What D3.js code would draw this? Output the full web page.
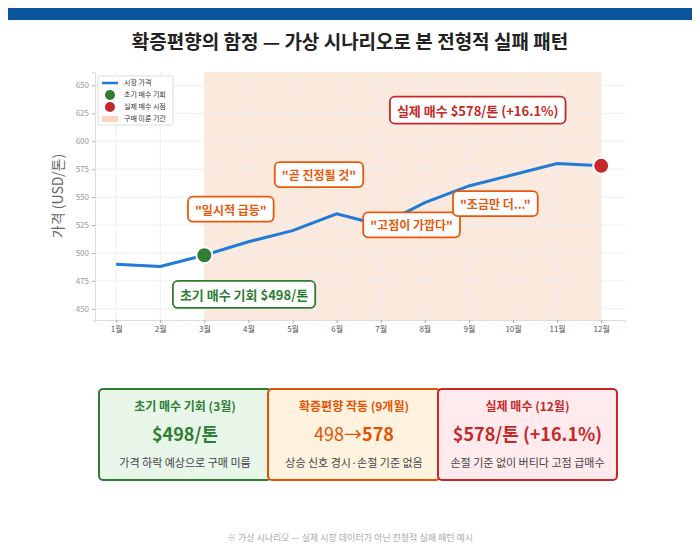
<!DOCTYPE html>
<html><head><meta charset="utf-8">
<script src="https://cdn.jsdelivr.net/npm/d3@7"></script>
<style>body{margin:0;background:#fff;font-family:"Noto Sans CJK KR","Noto Sans",sans-serif}</style>
</head><body>
<script>
// 데이터
const months = ["1월","2월","3월","4월","5월","6월","7월","8월","9월","10월","11월","12월"];
const prices = [490, 488, 498, 510, 520, 535, 525, 545, 560, 570, 580, 578];
const yTicks = [450, 475, 500, 525, 550, 575, 600, 625, 650];
const notes = [
  {t: "\"일시적 급등\"", m: 3.6, v: 538},
  {t: "\"곧 진정될 것\"", m: 5.6, v: 569},
  {t: "\"고점이 가깝다\"", m: 7.7, v: 524},
  {t: "\"조금만 더...\"", m: 9.6, v: 543}
];
const cards = [
  {head: "초기 매수 기회 (3월)", big: "$498/톤", sub: "가격 하락 예상으로 구매 미룸", c: "#2e7d32", bg: "#e8f5e9"},
  {head: "확증편향 작동 (9개월)", big: "498→578", sub: "상승 신호 경시·손절 기준 없음", c: "#e65100", bg: "#fff3e0"},
  {head: "실제 매수 (12월)", big: "$578/톤 (+16.1%)", sub: "손절 기준 없이 버티다 고점 급매수", c: "#c62828", bg: "#ffebee"}
];

const W = 700, H = 553;
const svg = d3.select("body").append("svg").attr("width", W).attr("height", H);
const font = "'Noto Sans CJK KR','Noto Sans',sans-serif";

svg.append("rect").attr("x", 8).attr("y", 8).attr("width", 684).attr("height", 12).attr("fill", "#0b559f");
svg.append("text").attr("x", 350).attr("y", 49).attr("text-anchor", "middle")
   .attr("font-family", font).attr("font-size", 19).attr("font-weight", "bold").attr("fill", "#222")
   .text("확증편향의 함정 — 가상 시나리오로 본 전형적 실패 패턴");

// 스케일
const x = d3.scaleLinear().domain([0.52, 12.54]).range([95, 625]);
const y = d3.scaleLinear().domain([440, 662]).range([320, 72]);

// 구매 미룬 기간
svg.append("rect").attr("x", x(3)).attr("y", y(662)).attr("width", x(12) - x(3)).attr("height", y(440) - y(662))
   .attr("fill", "#fbe3d6").attr("opacity", 0.8);

// 그리드
svg.append("g").selectAll("line").data(yTicks).join("line")
   .attr("x1", 95).attr("x2", 625).attr("y1", d => y(d)).attr("y2", d => y(d)).attr("stroke", "#eee");
svg.append("g").selectAll("line").data(months).join("line")
   .attr("x1", (d, i) => x(i + 1)).attr("x2", (d, i) => x(i + 1)).attr("y1", 72).attr("y2", 320).attr("stroke", "#eee");

const ya = svg.append("g").attr("transform", "translate(95,0)")
   .call(d3.axisLeft(y).tickValues(yTicks).tickSize(3));
const xa = svg.append("g").attr("transform", "translate(0,320)")
   .call(d3.axisBottom(x).tickValues(d3.range(1, 13)).tickFormat(d => months[d - 1]).tickSize(3));
[ya, xa].forEach(a => {
  a.select(".domain").attr("stroke", "#ddd");
  a.selectAll(".tick line").attr("stroke", "#aaa");
  a.selectAll("text").attr("font-family", font).attr("font-size", 8).attr("fill", "#555");
});
ya.selectAll("text").attr("fill", "#999");
svg.append("text").attr("transform", "translate(63,196) rotate(-90)").attr("text-anchor", "middle")
   .attr("font-family", font).attr("font-size", 14).attr("fill", "#666").text("가격 (USD/톤)");

// 선
svg.append("path").datum(prices)
   .attr("d", d3.line().x((d, i) => x(i + 1)).y(d => y(d)))
   .attr("fill", "none").attr("stroke", "#1e7bd6").attr("stroke-width", 3);
svg.append("circle").attr("cx", x(3)).attr("cy", y(prices[2])).attr("r", 8).attr("fill", "#2e7d32").attr("stroke", "#fff").attr("stroke-width", 2);
svg.append("circle").attr("cx", x(12)).attr("cy", y(prices[11])).attr("r", 8).attr("fill", "#c62828").attr("stroke", "#fff").attr("stroke-width", 2);

function label(cx, cy, txt, col, fs) {
  const g = svg.append("g");
  const t = g.append("text").attr("x", cx).attr("y", cy).attr("text-anchor", "middle").attr("dy", "0.35em")
     .attr("font-family", font).attr("font-size", fs).attr("font-weight", "bold").attr("fill", col).text(txt);
  const b = t.node().getBBox();
  g.insert("rect", "text").attr("x", b.x - 7).attr("y", b.y - 4).attr("width", b.width + 14).attr("height", b.height + 8)
   .attr("rx", 5).attr("fill", "#fff").attr("stroke", col).attr("stroke-width", 1.8);
}
notes.forEach(n => label(x(n.m), y(n.v), n.t, "#e8590c", 12));
label(x(3.9), y(462), "초기 매수 기회 $498/톤", "#2e7d32", 13);
label(x(9.2), y(627), "실제 매수 $578/톤 (+16.1%)", "#c62828", 13);

// 범례
const lg = svg.append("g").attr("transform", "translate(98,76)");
lg.append("rect").attr("width", 75).attr("height", 49).attr("fill", "#fff").attr("stroke", "#ddd").attr("rx", 2);
const items = ["시장 가격", "초기 매수 기회", "실제 매수 시점", "구매 미룬 기간"];
items.forEach((s, i) => {
  const yy = 7 + i * 12;
  if (i == 0) lg.append("line").attr("x1", 4).attr("x2", 20).attr("y1", yy).attr("y2", yy).attr("stroke", "#1e7bd6").attr("stroke-width", 2.5);
  if (i == 1 || i == 2) lg.append("circle").attr("cx", 12).attr("cy", yy).attr("r", 5).attr("fill", i == 1 ? "#2e7d32" : "#c62828");
  if (i == 3) lg.append("rect").attr("x", 4).attr("y", yy - 3).attr("width", 16).attr("height", 6).attr("fill", "#fbd5c0");
  lg.append("text").attr("x", 26).attr("y", yy).attr("dy", "0.35em").attr("font-family", font).attr("font-size", 7).attr("fill", "#333").text(s);
});

// 카드
const cw = [[99, 271], [268, 440], [438, 617]];
cards.forEach((c, i) => {
  const g = svg.append("g");
  const x0 = cw[i][0], w = cw[i][1] - cw[i][0], cx = x0 + w / 2;
  g.append("rect").attr("x", x0).attr("y", 389).attr("width", w).attr("height", 91).attr("rx", 4)
   .attr("fill", c.bg).attr("stroke", c.c).attr("stroke-width", 2);
  g.append("text").attr("x", cx).attr("y", 411).attr("text-anchor", "middle").attr("font-family", font)
   .attr("font-size", 12).attr("font-weight", "bold").attr("fill", c.c).text(c.head);
  const bt = g.append("text").attr("x", cx).attr("y", 441).attr("text-anchor", "middle").attr("font-family", font)
   .attr("font-size", 18).attr("font-weight", "bold").attr("fill", c.c);
  if (i == 1) {
    bt.append("tspan").attr("font-weight", "normal").text("498→");
    bt.append("tspan").text("578");
  } else bt.text(c.big);
  g.append("text").attr("x", cx).attr("y", 467).attr("text-anchor", "middle").attr("font-family", font)
   .attr("font-size", 11).attr("fill", "#444").text(c.sub);
});

svg.append("text").attr("x", 350).attr("y", 541).attr("text-anchor", "middle").attr("font-family", font)
   .attr("font-size", 9).attr("fill", "#aaa").text("※ 가상 시나리오 — 실제 시장 데이터가 아닌 전형적 실패 패턴 예시");
</script>
</body></html>
